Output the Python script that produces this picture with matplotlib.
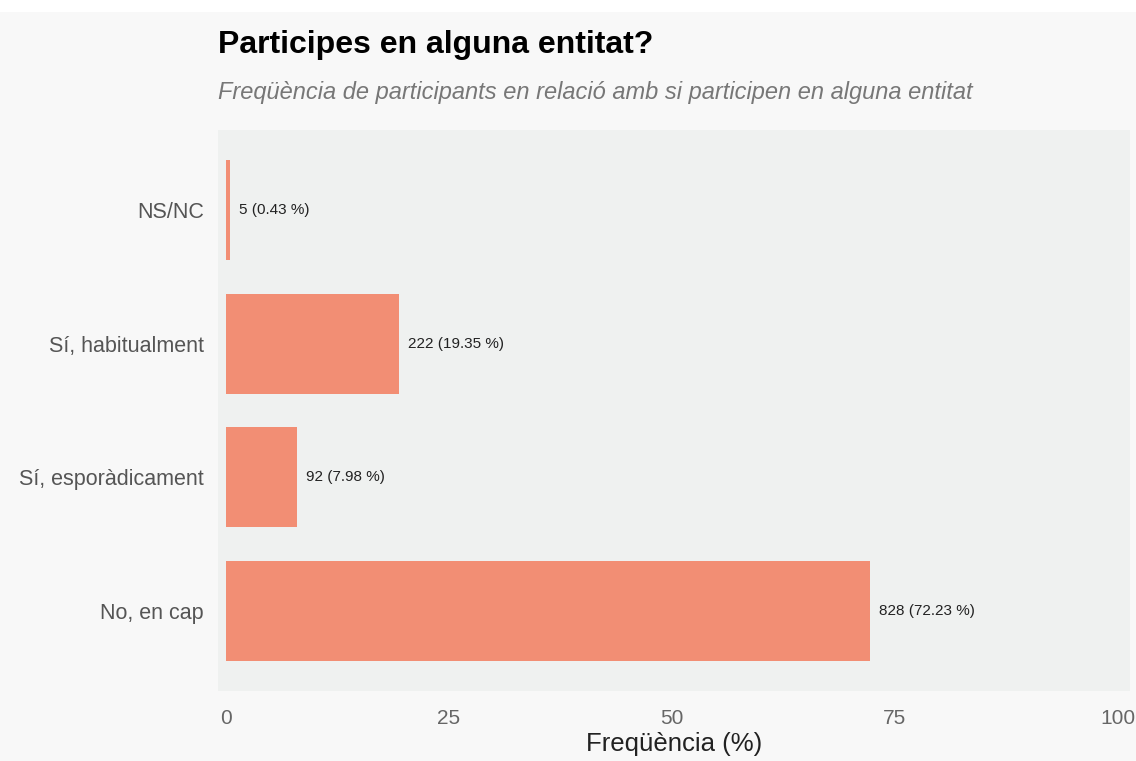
import matplotlib.pyplot as plt

categories = ['NS/NC', 'Sí, habitualment', 'Sí, esporàdicament', 'No, en cap']
counts = [5, 222, 92, 828]
percents = [0.43, 19.35, 7.98, 72.23]
xticks = [0, 25, 50, 75, 100]

plt.rcParams['font.family'] = ['Liberation Sans', 'DejaVu Sans']

fig = plt.figure(figsize=(11.36, 7.61), dpi=100, facecolor='#f8f8f8')
fig.patches.append(plt.Rectangle((0, 1 - 12 / 761), 1, 12 / 761, transform=fig.transFigure,
                                 facecolor='white', edgecolor='none', zorder=0))
ax = fig.add_axes([218 / 1136, 1 - 691 / 761, 912 / 1136, 561 / 761])
ax.set_facecolor('#eff1f0')

ypos = list(range(len(categories)))
ax.barh(ypos, percents, height=0.75, color='#f28e74', edgecolor='none')
for y, c, p in zip(ypos, counts, percents):
    ax.text(p + 1.0, y, f'{c} ({p:.2f} %)', va='center', ha='left', fontsize=11, color='#222222')

ax.set_ylim(len(categories) - 0.4, -0.6)
ax.set_xlim(-0.9, 101.35)
ax.set_yticks(ypos)
ax.set_yticklabels(categories, fontsize=15.5, color='#555555')
ax.set_xticks(xticks)
ax.set_xticklabels([str(t) for t in xticks], fontsize=15, color='#666666')
ax.tick_params(length=0, pad=10)
ax.tick_params(axis='x', pad=13)
for s in ax.spines.values():
    s.set_visible(False)
ax.set_xlabel('Freqüència (%)', fontsize=18.5, color='#222222', labelpad=3)

fig.text(218 / 1136, 1 - 45 / 761, 'Participes en alguna entitat?', fontsize=23, fontweight='bold',
         va='center', ha='left', color='black')
fig.text(218 / 1136, 1 - 93 / 761, 'Freqüència de participants en relació amb si participen en alguna entitat',
         fontsize=17, style='italic', va='center', ha='left', color='#777777')

fig.savefig('out.png', dpi=100, facecolor=fig.get_facecolor())
